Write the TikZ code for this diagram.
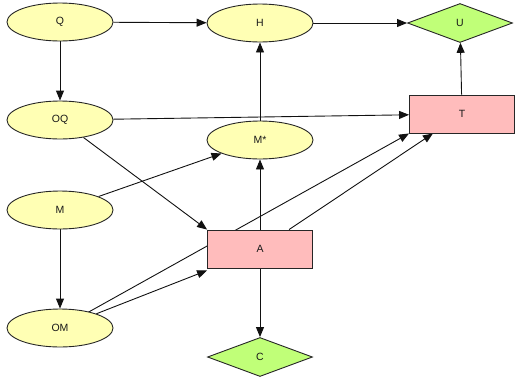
\documentclass[tikz,border=0pt]{standalone}
\usepackage{fontspec}
\setmainfont{Liberation Sans}
\usetikzlibrary{shapes.geometric,arrows.meta,backgrounds}
\definecolor{ellfill}{HTML}{FFFFB4}
\definecolor{diafill}{HTML}{C0FF78}
\definecolor{recfill}{HTML}{FFBCBC}
\definecolor{edgecol}{HTML}{111111}
\begin{document}
\begin{tikzpicture}[x=1pt,y=-1pt,
  every node/.style={font=\fontsize{10.5}{12}\selectfont, text=black!90, inner sep=0pt},
  ell/.style={ellipse, draw=black!85, line width=0.9pt, fill=ellfill, minimum width=106pt, minimum height=38pt},
  dia/.style={diamond, aspect=2.7, draw=black!85, line width=0.9pt, fill=diafill, minimum width=105pt, minimum height=39pt},
  rec/.style={rectangle, draw=black!85, line width=0.9pt, fill=recfill, minimum width=105pt, minimum height=38pt},
  arr/.style={draw=edgecol, line width=0.9pt, -{Triangle[length=10pt,width=8pt]}}
]
\useasboundingbox (0,0) rectangle (522,381);
\node[ell] (Q) at (60,22) {Q};
\node[ell] (H) at (260,23) {H};
\node[dia] (U) at (460,23) {U};
\node[ell] (OQ) at (60,120) {OQ};
\node[ell] (Ms) at (260,140) {M*};
\node[rec] (T) at (462,114) {T};
\node[ell] (M) at (60,210) {M};
\node[rec] (A) at (260,249) {A};
\node[ell] (OM) at (60,328) {OM};
\node[dia] (C) at (260,357) {C};
\begin{pgfonlayer}{background}
\draw[arr] (Q) -- (H);
\draw[arr] (Q) -- (OQ);
\draw[arr] (H) -- (U);
\draw[arr] (T) -- (U);
\draw[arr] (OQ) -- (T);
\draw[arr] (OQ) -- (A.north west);
\draw[arr] (M) -- (Ms);
\draw[arr] (M) -- (OM);
\draw[arr] (Ms) -- (H);
\draw[arr] (A) -- (Ms);
\draw[arr] (A) -- (C);
\draw[arr] (A) -- (T);
\draw[arr] (OM.center) -- (T.south west);
\draw[arr] (OM) -- ([yshift=-2pt]A.south west);
\end{pgfonlayer}
\end{tikzpicture}
\end{document}
